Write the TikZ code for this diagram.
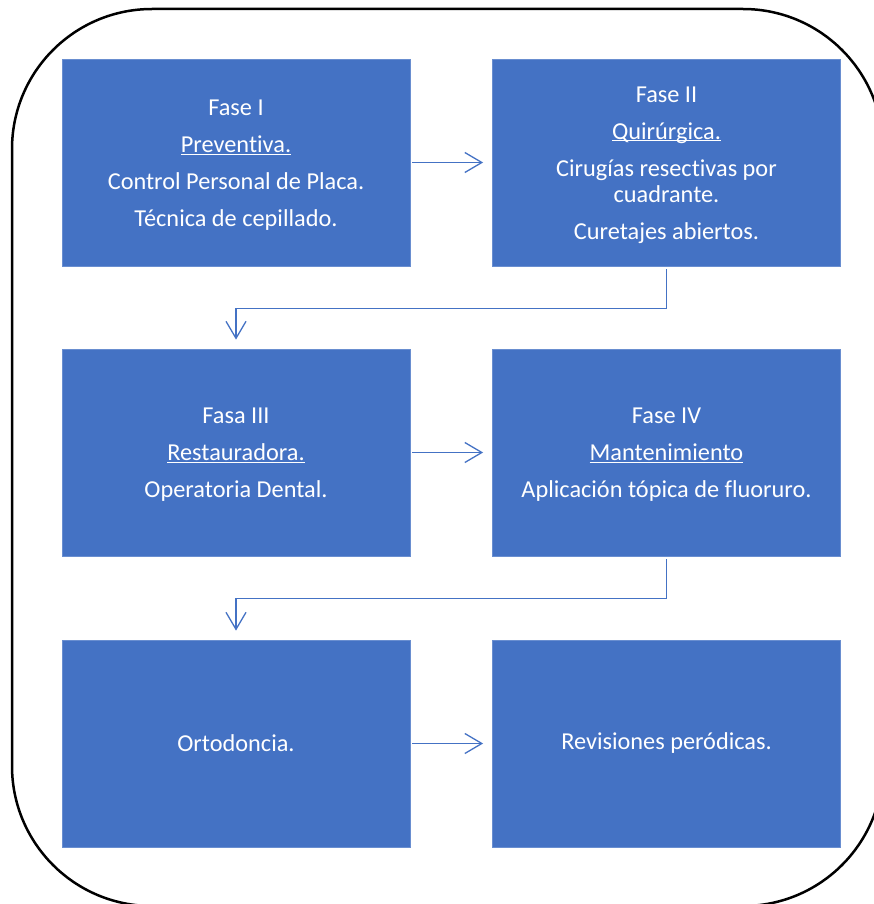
\documentclass[tikz,border=0pt]{standalone}
\usepackage{fontspec}
\setmainfont{Carlito}[Ligatures=NoCommon]
\usetikzlibrary{arrows.meta}
\definecolor{boxblue}{HTML}{4472C4}
\newcommand\uln[1]{\underline{\smash{#1}}}
\begin{document}
\begin{tikzpicture}[x=1pt,y=-1pt,
  phase/.style={fill=boxblue, draw=boxblue!80!white, line width=0.8pt,
    minimum width=348pt, minimum height=207pt, inner sep=0pt},
  txt/.style={text=white, inner sep=0pt, align=center,
    font=\fontsize{24.3}{26}\selectfont},
  flow/.style={draw=boxblue, line width=1.3pt,
    -{Straight Barb[length=17pt,width=20pt,line width=1.3pt]}}]
\useasboundingbox (0,0) rectangle (874,904);
\begin{scope}
\clip (0,0) rectangle (874,904);
\draw[line width=2.5pt, rounded corners=140pt] (12,9) rectangle (883,906);
\end{scope}
\node[phase] (p1) at (236,162.5) {};
\node[phase] (p2) at (666.5,162.5) {};
\node[phase] (p3) at (236,452.5) {};
\node[phase] (p4) at (666.5,452.5) {};
\node[phase] (p5) at (236,743.5) {};
\node[phase] (p6) at (666.5,743.5) {};
\node[txt] (t1) at ([yshift=-2.5pt]p1.center) {Fase I\\[11pt]\uln{Preventiva.}\\[11pt]Control Personal de Placa.\\[11pt]Técnica de cepillado.};
\node[txt] (t2) at ([yshift=-2.5pt]p2.center) {Fase II\\[11pt]\uln{Quirúrgica.}\\[11pt]Cirugías resectivas por\\cuadrante.\\[11pt]Curetajes abiertos.};
\node[txt] (t3) at ([yshift=-2.5pt]p3.center) {Fasa III\\[11pt]\uln{Restauradora.}\\[11pt]Operatoria Dental.};
\node[txt] (t4) at ([yshift=-2.5pt]p4.center) {Fase IV\\[11pt]\uln{Mantenimiento}\\[11pt]Aplicación tópica de fluoruro.};
\node[txt] (t5) at ([yshift=0.5pt]p5.center) {Ortodoncia.};
\node[txt] (t6) at ([yshift=0.5pt]p6.center) {Revisiones peródicas.};
\draw[flow, shorten <=2pt, shorten >=9pt] (p1) -- (p2);
\draw[flow, shorten <=2pt, shorten >=9pt] (p3) -- (p4);
\draw[flow, shorten <=2pt, shorten >=9pt] (p5) -- (p6);
\draw[flow, shorten <=3pt, shorten >=9pt] (p2.south) -- ++(0,42) -| (p3.north);
\draw[flow, shorten <=3pt, shorten >=9pt] (p4.south) -- ++(0,42) -| (p5.north);
\end{tikzpicture}
\end{document}
